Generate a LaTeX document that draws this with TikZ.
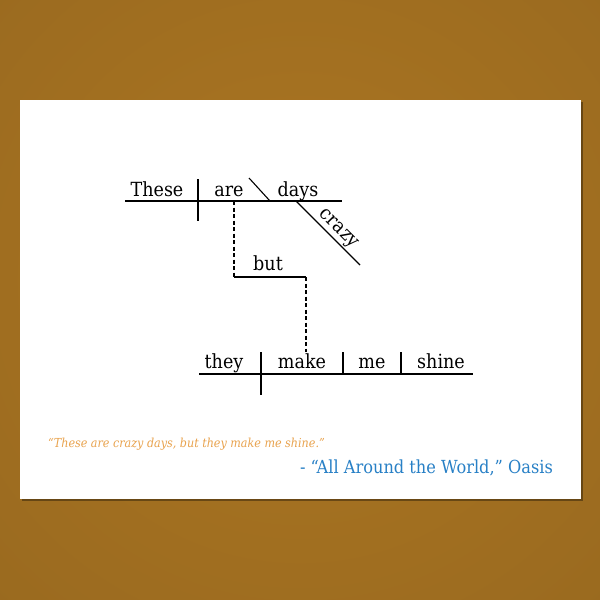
\documentclass[tikz,border=0pt]{standalone}
\usepackage{fontspec}
\newfontfamily\slab{DejaVu Serif Condensed}
\definecolor{bgdark}{RGB}{146,101,30}
\definecolor{bglight}{RGB}{172,118,34}
\definecolor{quote}{RGB}{233,163,78}
\definecolor{song}{RGB}{40,128,198}
\tikzset{
  word/.style={anchor=base, inner sep=0pt, font=\slab\fontsize{19.5}{22}\selectfont},
  rule/.style={line width=1.1pt, black},
  link/.style={rule, dashed, dash pattern=on 4pt off 2.5pt}
}
\begin{document}
\begin{tikzpicture}[x=1pt, y=-1pt]
    \useasboundingbox (0,0) rectangle (600,600);
    \fill[bgdark] (0,0) rectangle (600,600);
    \begin{scope}
      \clip (0,0) rectangle (600,600);
      \shade[inner color=bglight, outer color=bgdark] (300,280) circle (640);
    \end{scope}
    \fill[black, opacity=.35] (22,102) rectangle (583,501);
    \fill[white] (20,100) rectangle (581,499);

    \coordinate (top-l) at (125,201);  \coordinate (top-r) at (342,201);
    \coordinate (subj-t) at (198,179); \coordinate (subj-b) at (198,221);
    \coordinate (cmp-t) at (249,178);  \coordinate (cmp-b) at (270,201);
    \coordinate (adj-t) at (296,201);  \coordinate (adj-b) at (360,265);
    \coordinate (conj-t) at (234,201); \coordinate (conj-l) at (234,277);
    \coordinate (conj-r) at (306,277); \coordinate (conj-b) at (306,352);
    \coordinate (bot-l) at (199,374);  \coordinate (bot-r) at (473,374);
    \coordinate (subj2-t) at (261,352); \coordinate (subj2-b) at (261,395);
    \coordinate (obj-t) at (343,352);  \coordinate (obj-b) at (343,374);
    \coordinate (oc-t) at (401,352);   \coordinate (oc-b) at (401,374);

    \node[word] (these) at (157,196) {These};
    \node[word] (are)   at (229,196) {are};
    \node[word] (days)  at (298,196) {days};
    \node[word] (but)   at (268,270) {but};
    \node[word] (they)  at (224,368) {they};
    \node[word] (make)  at (302,368) {make};
    \node[word] (me)    at (372,368) {me};
    \node[word] (shine) at (441,368) {shine};

    \draw[rule] (top-l) -- (top-r);
    \draw[rule] (subj-t) -- (subj-b);
    \draw[rule] (cmp-t) -- (cmp-b);
    \draw[rule] (adj-t) -- (adj-b)
      node[pos=.55, sloped, above, inner sep=1.5pt, font=\slab\fontsize{19.5}{22}\selectfont] (crazy) {crazy};
    \draw[link] (conj-t) -- (conj-l);
    \draw[rule] (conj-l) -- (conj-r);
    \draw[link] (conj-r) -- (conj-b);
    \draw[rule] (bot-l) -- (bot-r);
    \draw[rule] (subj2-t) -- (subj2-b);
    \draw[rule] (obj-t) -- (obj-b);
    \draw[rule] (oc-t) -- (oc-b);

    \node[anchor=base west, inner sep=0pt, text=quote, font=\slab\itshape\fontsize{12.4}{14}\selectfont]
      (lyric) at (48,447) {“These are crazy days, but they make me shine.”};
    \node[anchor=base east, inner sep=0pt, text=song, font=\slab\fontsize{18}{20}\selectfont]
      (credit) at (553,473) {- “All Around the World,” Oasis};
  \end{tikzpicture}
\end{document}
